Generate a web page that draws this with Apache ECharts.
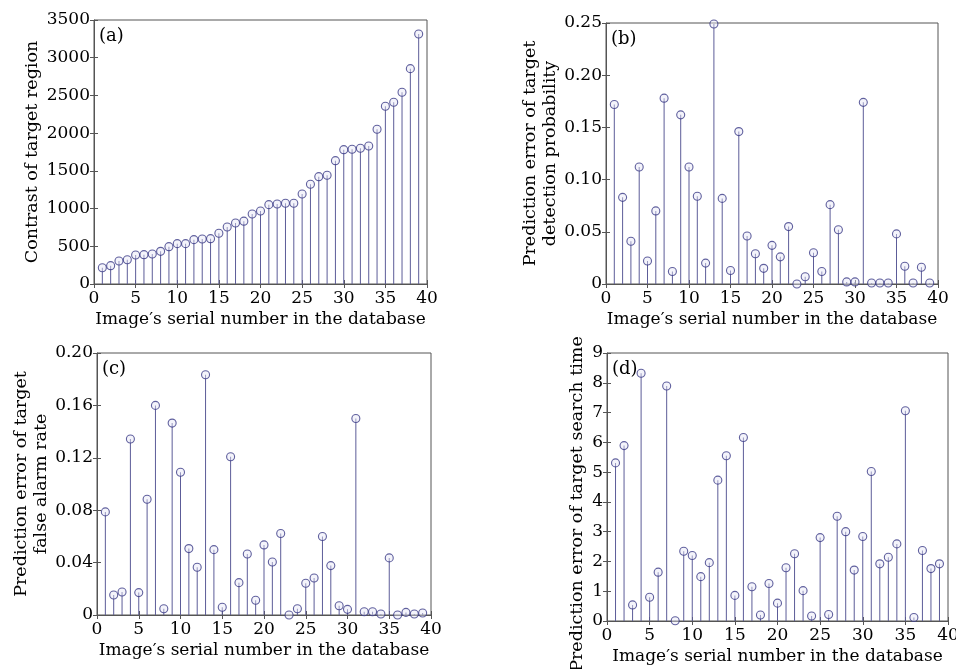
<!DOCTYPE html>
<html><head><meta charset="utf-8">
<script src="https://cdn.jsdelivr.net/npm/echarts@6/dist/echarts.min.js"></script>
<style>html,body{margin:0;padding:0;background:#fff}#c{width:956px;height:669px}</style>
</head><body><div id="c"></div>
<script>
const serial = Array.from({length: 39}, (_, i) => i + 1);
const contrast = [216,243,305,322,385,389,398,433,495,535,535,588,597,601,672,756,809,833,928,968,1052,1061,1070,1070,1193,1322,1423,1441,1635,1781,1786,1799,1830,2051,2356,2409,2542,2855,3315];
const errDetect = [0.172,0.083,0.041,0.112,0.022,0.070,0.178,0.012,0.162,0.112,0.084,0.020,0.249,0.082,0.013,0.146,0.046,0.029,0.015,0.037,0.026,0.055,0.000,0.007,0.030,0.012,0.076,0.052,0.002,0.002,0.174,0.001,0.001,0.001,0.048,0.017,0.001,0.016,0.001];
const errFalse = [0.0787,0.0153,0.0176,0.1343,0.0171,0.0884,0.160,0.0048,0.1465,0.109,0.0507,0.0364,0.1834,0.0499,0.0059,0.1208,0.0247,0.0466,0.0113,0.0535,0.0405,0.0622,0.0,0.0048,0.0242,0.0283,0.0599,0.0377,0.0071,0.0043,0.150,0.0025,0.0025,0.0008,0.0436,0.0,0.002,0.0008,0.0015];
const errTime = [5.31,5.89,0.54,8.32,0.80,1.64,7.89,0.01,2.34,2.20,1.49,1.96,4.73,5.55,0.86,6.16,1.15,0.20,1.26,0.60,1.79,2.26,1.02,0.17,2.80,0.22,3.52,3.00,1.71,2.84,5.02,1.92,2.14,2.59,7.06,0.12,2.37,1.76,1.92];
const xTicks = [0,5,10,15,20,25,30,35,40];

const FONT = 'DejaVu Serif';
const AXC = '#555';
const STEM = '#5c5c98';
const panels = [
  {g:{left:94,top:20,width:333,height:264}, data:contrast, max:3500, interval:500, fmt:v=>String(v),
   yname:'Contrast of target region', ygap:52, ypad:0, label:'(a)', xgap:27},
  {g:{left:606,top:23,width:332,height:261}, data:errDetect, max:0.25, interval:0.05, fmt:v=>v===0?'0':v.toFixed(2),
   yname:'Prediction error of target\ndetection probability', ygap:42, ypad:0, label:'(b)', xgap:27},
  {g:{left:97,top:353,width:334,height:262}, data:errFalse, max:0.20, interval:0.04, fmt:v=>v===0?'0':v.toFixed(2),
   yname:'Prediction error of target\nfalse alarm rate', ygap:41, ypad:0, label:'(c)', xgap:27},
  {g:{left:607,top:353,width:341,height:268}, data:errTime, max:9, interval:1, fmt:v=>String(v),
   yname:'Prediction error of target search time', ygap:20, ypad:34, label:'(d)', xgap:27}
];

const option = {backgroundColor:'#fff', animation:false, grid:[], xAxis:[], yAxis:[], series:[], graphic:[]};
panels.forEach((p, i) => {
  option.grid.push(Object.assign({show:true, borderColor:AXC, borderWidth:1, backgroundColor:'#fff',
    containLabel:false, outerBoundsMode:'none'}, p.g));
  const tickStyle = {show:true, inside:true, length:4, lineStyle:{color:AXC}};
  option.xAxis.push({type:'value', gridIndex:i, min:0, max:40, interval:5, position:'bottom',
    axisLine:{show:true, lineStyle:{color:AXC, width:1}}, axisTick:tickStyle,
    axisLabel:{fontFamily:FONT, fontSize:17, color:'#000', margin:6, formatter:v=>String(v)},
    splitLine:{show:false}, name:"Image′s serial number in the database", nameLocation:'middle', nameGap:p.xgap,
    nameTextStyle:{fontFamily:FONT, fontSize:17, color:'#000'}});
  option.xAxis.push({type:'value', gridIndex:i, min:0, max:40, interval:5, position:'top',
    axisLine:{show:false}, axisTick:tickStyle, axisLabel:{show:false}, splitLine:{show:false}});
  option.yAxis.push({type:'value', gridIndex:i, min:0, max:p.max, interval:p.interval, position:'left',
    axisLine:{show:true, lineStyle:{color:AXC, width:1}}, axisTick:tickStyle,
    axisLabel:{fontFamily:FONT, fontSize:17, color:'#000', margin:4, formatter:p.fmt},
    splitLine:{show:false}, name:p.yname, nameLocation:'middle', nameGap:p.ygap,
    nameTextStyle:{fontFamily:FONT, fontSize:17.5, color:'#000', lineHeight:20, padding:[0,p.ypad,0,0]}});
  option.yAxis.push({type:'value', gridIndex:i, min:0, max:p.max, interval:p.interval, position:'right',
    axisLine:{show:false}, axisTick:tickStyle, axisLabel:{show:false}, splitLine:{show:false}});
  const pts = serial.map((s, k) => [s, p.data[k]]);
  option.series.push({type:'bar', xAxisIndex:2*i, yAxisIndex:2*i, data:pts, barWidth:1,
    itemStyle:{color:STEM}, silent:true});
  option.series.push({type:'scatter', xAxisIndex:2*i, yAxisIndex:2*i, data:pts, symbol:'circle', symbolSize:8,
    itemStyle:{color:'rgba(230,230,245,0.55)', borderColor:'#3a3a86', borderWidth:1.1}, silent:true});
  option.graphic.push({type:'text', left:p.g.left+5, top:p.g.top+7, z:100,
    style:{text:p.label, font:'18px "DejaVu Serif"', fill:'#000'}});
});
const chart = echarts.init(document.getElementById('c'), null, {renderer:'canvas'});
chart.setOption(option);
</script></body></html>
